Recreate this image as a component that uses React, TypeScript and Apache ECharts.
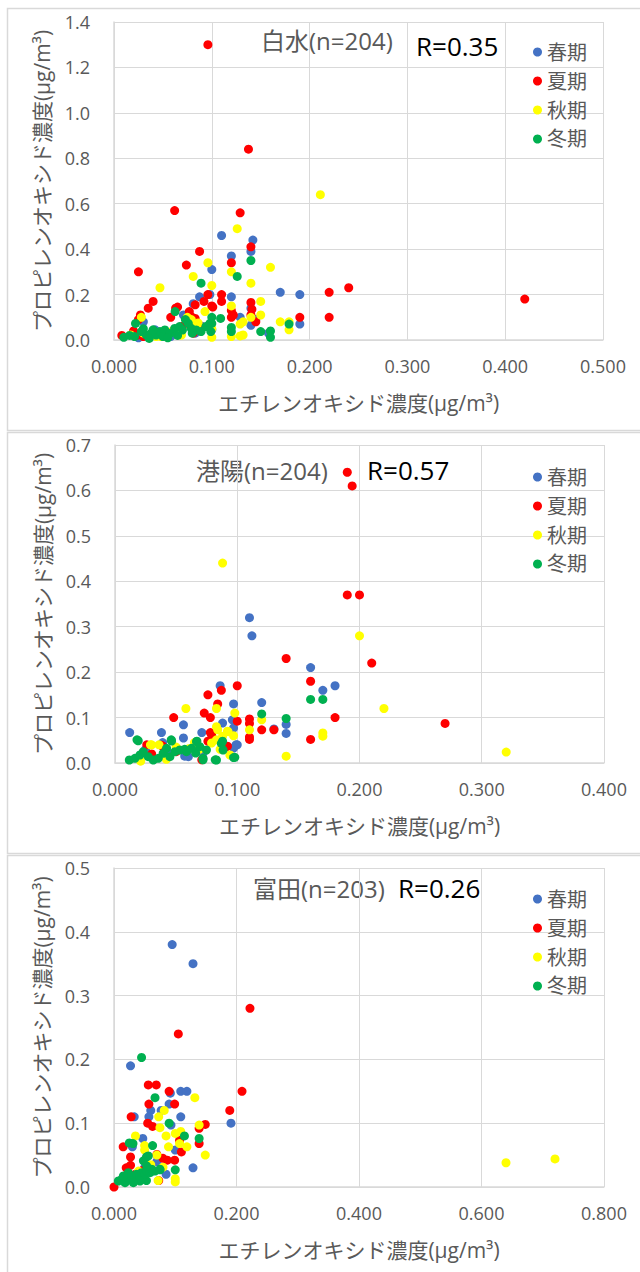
import React, { useEffect, useRef } from "react";
import * as echarts from "echarts";

const seasons = ["春期", "夏期", "秋期", "冬期"];
const seasonColors = ["#4472C4", "#FF0000", "#FFFF00", "#00B050"];

const xAxisTitle = "エチレンオキシド濃度(μg/m³)";
const yAxisTitle = "プロピレンオキシド濃度(μg/m³)";

// ---------- 白水 ----------
const shiroSpring = [
  [0.11, 0.46], [0.12, 0.37], [0.142, 0.44], [0.14, 0.39], [0.1, 0.31], [0.12, 0.19], [0.17, 0.21],
  [0.19, 0.2], [0.19, 0.07], [0.14, 0.065], [0.14, 0.14], [0.129, 0.1], [0.0875, 0.19], [0.081, 0.16],
  [0.098, 0.2], [0.071, 0.11], [0.03, 0.08], [0.042, 0.045], [0.083, 0.03], [0.058, 0.015], [0.158, 0.03],
  [0.05, 0.03], [0.035, 0.02], [0.065, 0.05], [0.09, 0.06], [0.025, 0.01], [0.1, 0.045], [0.145, 0.09],
];
const shiroSummer = [
  [0.096, 1.3], [0.1375, 0.84], [0.062, 0.57], [0.129, 0.56], [0.025, 0.3], [0.0875, 0.39], [0.074, 0.33],
  [0.12, 0.34], [0.14, 0.41], [0.22, 0.21], [0.24, 0.23], [0.42, 0.18], [0.22, 0.1], [0.19, 0.1],
  [0.145, 0.08], [0.14, 0.165], [0.14, 0.11], [0.12, 0.1], [0.12, 0.13], [0.11, 0.2], [0.11, 0.17],
  [0.1, 0.15], [0.096, 0.2], [0.092, 0.17], [0.083, 0.155], [0.077, 0.125], [0.04, 0.17], [0.035, 0.14],
  [0.063, 0.14], [0.058, 0.1], [0.027, 0.11], [0.025, 0.09], [0.008, 0.02], [0.03, 0.015], [0.083, 0.095],
  [0.0875, 0.05], [0.079, 0.103], [0.082, 0.075], [0.081, 0.03], [0.024, 0.022], [0.141, 0.135],
  [0.122, 0.11], [0.101, 0.145], [0.065, 0.145], [0.02, 0.04], [0.045, 0.03], [0.07, 0.06],
];
const shiroAutumn = [
  [0.211, 0.64], [0.126, 0.49], [0.096, 0.34], [0.16, 0.32], [0.12, 0.3], [0.081, 0.28], [0.1, 0.24],
  [0.14, 0.25], [0.047, 0.23], [0.15, 0.17], [0.12, 0.15], [0.15, 0.11], [0.093, 0.125], [0.17, 0.08],
  [0.179, 0.08], [0.179, 0.045], [0.14, 0.1], [0.129, 0.07], [0.129, 0.018], [0.12, 0.015], [0.1, 0.012],
  [0.028, 0.1], [0.079, 0.09], [0.067, 0.022], [0.048, 0.015], [0.017, 0.022], [0.085, 0.066],
  [0.132, 0.08], [0.086, 0.075], [0.132, 0.022], [0.069, 0.022], [0.043, 0.015], [0.03, 0.03],
  [0.06, 0.04], [0.1, 0.05], [0.075, 0.1],
];
const shiroWinter = [
  [0.14, 0.35], [0.126, 0.28], [0.089, 0.25], [0.0625, 0.125], [0.109, 0.095], [0.1, 0.1], [0.12, 0.055],
  [0.12, 0.037], [0.15, 0.037], [0.16, 0.04], [0.16, 0.012], [0.179, 0.07], [0.1, 0.073], [0.073, 0.09],
  [0.022, 0.073], [0.01, 0.012], [0.028, 0.037], [0.033, 0.022], [0.038, 0.029], [0.043, 0.022],
  [0.047, 0.037], [0.052, 0.044], [0.057, 0.029], [0.062, 0.051], [0.067, 0.059], [0.07, 0.044],
  [0.076, 0.073], [0.079, 0.051], [0.084, 0.044], [0.089, 0.037], [0.094, 0.059], [0.098, 0.073],
  [0.099, 0.037], [0.021, 0.015], [0.036, 0.007], [0.05, 0.015], [0.016, 0.02], [0.04, 0.045],
  [0.055, 0.01], [0.065, 0.02], [0.08, 0.03], [0.03, 0.05],
];

// ---------- 港陽 ----------
const kouyouSpring = [
  [0.11, 0.32], [0.112, 0.28], [0.16, 0.21], [0.17, 0.16], [0.18, 0.17], [0.12, 0.133], [0.097, 0.13],
  [0.086, 0.17], [0.14, 0.085], [0.14, 0.065], [0.13, 0.075], [0.012, 0.067], [0.038, 0.067],
  [0.056, 0.084], [0.056, 0.055], [0.071, 0.067], [0.088, 0.088], [0.096, 0.095], [0.097, 0.077],
  [0.1, 0.04], [0.097, 0.033], [0.057, 0.015], [0.072, 0.022], [0.06, 0.014], [0.099, 0.04],
  [0.039, 0.045], [0.025, 0.03], [0.045, 0.02],
];
const kouyouSummer = [
  [0.19, 0.64], [0.194, 0.61], [0.19, 0.37], [0.2, 0.37], [0.21, 0.22], [0.14, 0.23], [0.16, 0.18],
  [0.27, 0.087], [0.18, 0.1], [0.16, 0.052], [0.1, 0.17], [0.087, 0.16], [0.076, 0.15], [0.084, 0.13],
  [0.073, 0.11], [0.078, 0.1], [0.048, 0.1], [0.11, 0.097], [0.11, 0.087], [0.1, 0.092], [0.12, 0.073],
  [0.13, 0.073], [0.11, 0.052], [0.11, 0.057], [0.079, 0.062], [0.092, 0.037], [0.071, 0.007],
  [0.026, 0.04], [0.039, 0.037], [0.076, 0.048], [0.078, 0.067], [0.079, 0.047], [0.091, 0.036],
  [0.038, 0.039], [0.03, 0.02], [0.05, 0.025],
];
const kouyouAutumn = [
  [0.088, 0.44], [0.2, 0.28], [0.22, 0.12], [0.32, 0.024], [0.17, 0.066], [0.17, 0.059], [0.14, 0.015],
  [0.058, 0.12], [0.083, 0.12], [0.098, 0.11], [0.12, 0.095], [0.11, 0.073], [0.083, 0.08], [0.092, 0.07],
  [0.088, 0.059], [0.097, 0.06], [0.079, 0.044], [0.069, 0.03], [0.029, 0.04], [0.036, 0.04],
  [0.059, 0.03], [0.086, 0.03], [0.021, 0.004], [0.042, 0.008], [0.061, 0.032], [0.084, 0.073],
  [0.0925, 0.069], [0.083, 0.051], [0.094, 0.0176], [0.03, 0.04], [0.05, 0.035], [0.065, 0.045],
];
const kouyouWinter = [
  [0.16, 0.14], [0.17, 0.14], [0.12, 0.108], [0.14, 0.098], [0.018, 0.051], [0.046, 0.051], [0.067, 0.048],
  [0.088, 0.048], [0.097, 0.012], [0.082, 0.007], [0.072, 0.007], [0.066, 0.022], [0.057, 0.03],
  [0.0117, 0.0066], [0.0163, 0.0103], [0.0204, 0.0176], [0.0231, 0.0249], [0.0272, 0.0139],
  [0.0313, 0.0066], [0.0354, 0.0103], [0.0394, 0.0213], [0.0422, 0.0323], [0.0449, 0.0139],
  [0.049, 0.0249], [0.053, 0.0286], [0.0585, 0.0249], [0.0626, 0.0323], [0.0667, 0.047], [0.0694, 0.036],
  [0.0748, 0.0286], [0.072, 0.0103], [0.083, 0.0066], [0.087, 0.043], [0.0884, 0.0286], [0.098, 0.0125],
  [0.019, 0.049], [0.0463, 0.0484],
];

// ---------- 富田 ----------
const tondaSpring = [
  [0.095, 0.38], [0.129, 0.35], [0.027, 0.19], [0.109, 0.15], [0.119, 0.15], [0.092, 0.147], [0.191, 0.1],
  [0.109, 0.11], [0.033, 0.11], [0.06, 0.12], [0.077, 0.12], [0.057, 0.11], [0.129, 0.03], [0.03, 0.063],
  [0.047, 0.076], [0.1, 0.058], [0.093, 0.097], [0.09, 0.13], [0.07, 0.04], [0.05, 0.03], [0.085, 0.02],
];
const tondaSummer = [
  [0.222, 0.28], [0.105, 0.24], [0.209, 0.15], [0.189, 0.12], [0.056, 0.16], [0.069, 0.16], [0.09, 0.15],
  [0.099, 0.13], [0.057, 0.13], [0.028, 0.11], [0.055, 0.1], [0.063, 0.095], [0.149, 0.098], [0.139, 0.092],
  [0.139, 0.068], [0.015, 0.063], [0.027, 0.047], [0.07, 0.051], [0.087, 0.042], [0.099, 0.042],
  [0.11, 0.055], [0.107, 0.073], [0.0, 0.0], [0.027, 0.034], [0.073, 0.01], [0.047, 0.026], [0.035, 0.02],
  [0.08, 0.045], [0.02, 0.03],
];
const tondaAutumn = [
  [0.64, 0.038], [0.72, 0.044], [0.132, 0.14], [0.082, 0.12], [0.073, 0.11], [0.075, 0.093], [0.035, 0.08],
  [0.085, 0.08], [0.1, 0.084], [0.109, 0.087], [0.139, 0.097], [0.119, 0.063], [0.149, 0.05], [0.107, 0.068],
  [0.089, 0.063], [0.05, 0.065], [0.05, 0.058], [0.07, 0.05], [0.08, 0.031], [0.1, 0.013], [0.1, 0.008],
  [0.072, 0.01], [0.033, 0.01], [0.04, 0.025], [0.06, 0.035], [0.02, 0.012],
];
const tondaWinter = [
  [0.045, 0.203], [0.067, 0.14], [0.09, 0.1], [0.115, 0.08], [0.139, 0.076], [0.025, 0.069], [0.031, 0.068],
  [0.063, 0.065], [0.1, 0.027], [0.075, 0.027], [0.053, 0.01], [0.053, 0.047], [0.0071, 0.0094],
  [0.0125, 0.012], [0.018, 0.0068], [0.0207, 0.0147], [0.026, 0.012], [0.0289, 0.0173], [0.0343, 0.0147],
  [0.037, 0.02], [0.0424, 0.0173], [0.045, 0.0225], [0.0506, 0.02], [0.0533, 0.025], [0.0588, 0.0225],
  [0.0615, 0.0278], [0.067, 0.025], [0.048, 0.041], [0.0533, 0.033], [0.056, 0.0487], [0.0424, 0.0094],
  [0.0316, 0.0068], [0.075, 0.0278], [0.0234, 0.0225], [0.0153, 0.0173],
];

const panelTitles = ["白水(n=204)", "港陽(n=204)", "富田(n=203)"];
const panelR = ["R=0.35", "R=0.57", "R=0.26"];
const xMaxes = [0.5, 0.4, 0.8];
const xIntervals = [0.1, 0.1, 0.2];
const yMaxes = [1.4, 0.7, 0.5];
const yIntervals = [0.2, 0.1, 0.1];
const panelData = [
  [shiroSpring, shiroSummer, shiroAutumn, shiroWinter],
  [kouyouSpring, kouyouSummer, kouyouAutumn, kouyouWinter],
  [tondaSpring, tondaSummer, tondaAutumn, tondaWinter],
];

const FONT = "'Open Sans', 'Noto Sans CJK JP', sans-serif";
const GRAY = "#595959";

// layout (pixels)
const layout = [
  { grid: { left: 114, top: 22, width: 489, height: 318 }, frameTop: 8, frameH: 422, titleX: 261, titleY: 40, rX: 416, rY: 46, legendTop: 37 },
  { grid: { left: 115, top: 445, width: 489, height: 318 }, frameTop: 432, frameH: 421, titleX: 196, titleY: 470, rX: 367, rY: 470, legendTop: 462 },
  { grid: { left: 114, top: 868, width: 490, height: 319 }, frameTop: 855, frameH: 430, titleX: 253, titleY: 888, rX: 398, rY: 888, legendTop: 884 },
];

export default function App() {
  const ref = useRef<HTMLDivElement>(null);
  useEffect(() => {
    if (!ref.current) return;
    const chart = echarts.init(ref.current, undefined, { renderer: "svg" });
    const grids: any[] = [];
    const xAxes: any[] = [];
    const yAxes: any[] = [];
    const series: any[] = [];
    const legends: any[] = [];
    const graphics: any[] = [];
    layout.forEach((L, i) => {
      grids.push({ ...L.grid, containLabel: false });
      xAxes.push({
        type: "value", gridIndex: i, min: 0, max: xMaxes[i], interval: xIntervals[i],
        axisLine: { show: true, lineStyle: { color: "#d9d9d9", width: 1.5 } },
        axisTick: { show: false },
        splitLine: { show: true, lineStyle: { color: "#d9d9d9", width: 1 } },
        axisLabel: { formatter: (v: number) => v.toFixed(3), fontSize: 18, color: GRAY, fontFamily: FONT, margin: 17 },
        name: xAxisTitle, nameLocation: "middle", nameGap: 52,
        nameTextStyle: { fontSize: 21, color: GRAY, fontFamily: FONT },
      });
      yAxes.push({
        type: "value", gridIndex: i, min: 0, max: yMaxes[i], interval: yIntervals[i],
        axisLine: { show: true, lineStyle: { color: "#d9d9d9", width: 1.5 } },
        axisTick: { show: false },
        splitLine: { show: true, lineStyle: { color: "#d9d9d9", width: 1 } },
        axisLabel: { formatter: (v: number) => v.toFixed(1), fontSize: 18, color: GRAY, fontFamily: FONT, margin: 24 },
        name: yAxisTitle, nameLocation: "middle", nameGap: 62, nameRotate: 90,
        nameTextStyle: { fontSize: 21, color: GRAY, fontFamily: FONT },
      });
      panelData[i].forEach((d, s) => {
        series.push({
          type: "scatter", name: seasons[s], xAxisIndex: i, yAxisIndex: i, data: d,
          symbol: "circle", symbolSize: 9, itemStyle: { color: seasonColors[s], opacity: 1 },
        });
      });
      legends.push({
        orient: "vertical", left: 528, top: L.legendTop, data: seasons, icon: "circle",
        itemWidth: 9, itemHeight: 9, itemGap: 9,
        textStyle: { fontSize: 20, color: GRAY, fontFamily: FONT },
      });
      graphics.push({
        type: "rect", shape: { x: 7.5, y: L.frameTop + 0.5, width: 660, height: L.frameH },
        style: { fill: "none", stroke: "#d9d9d9", lineWidth: 1.5 }, silent: true, z: -1,
      });
      graphics.push({
        type: "text", x: L.titleX, y: L.titleY,
        style: { text: panelTitles[i], fontSize: 24, fontFamily: FONT, fill: GRAY, verticalAlign: "middle" },
      });
      graphics.push({
        type: "text", x: L.rX, y: L.rY,
        style: { text: panelR[i], fontSize: 26, fontFamily: FONT, fill: "#000000", verticalAlign: "middle" },
      });
    });
    chart.setOption({
      animation: false,
      backgroundColor: "#ffffff",
      textStyle: { fontFamily: FONT },
      grid: grids, xAxis: xAxes, yAxis: yAxes, series, legend: legends, graphic: graphics,
    });
    return () => chart.dispose();
  }, []);
  return <div ref={ref} style={{ position: "absolute", left: 0, top: 0, width: 640, height: 1272 }} />;
}
